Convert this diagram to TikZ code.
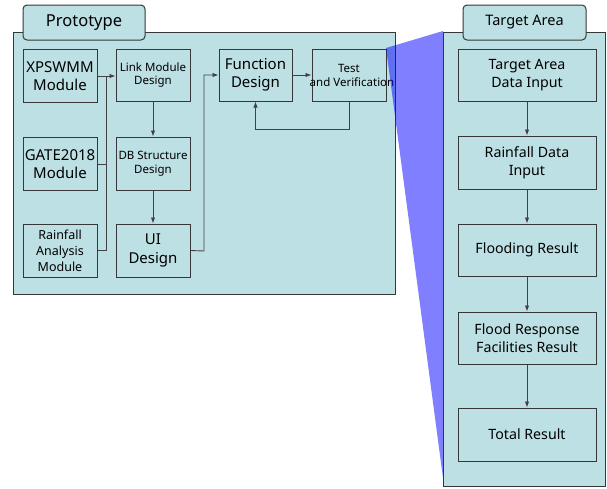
\documentclass[tikz,border=0pt]{standalone}
\usepackage{fontspec}
\setmainfont{Noto Sans}
\usetikzlibrary{arrows.meta}
\definecolor{panelfill}{RGB}{189,224,228}
\definecolor{edge}{RGB}{55,55,55}
\definecolor{wirec}{RGB}{65,65,65}
\begin{document}
\begin{tikzpicture}[x=1pt,y=-1pt,
  panel/.style={draw=edge, fill=panelfill, line width=1pt},
  tab/.style={draw=edge, fill=panelfill, line width=1pt, rounded corners=4pt,
    minimum width=122pt, minimum height=35pt, inner sep=0pt},
  box/.style={draw=edge, fill=panelfill, line width=1pt, align=center,
    inner sep=1pt, minimum width=74pt, minimum height=53pt},
  tbox/.style={box, minimum width=138pt, font=\fontsize{14.2}{18}\selectfont},
  wire/.style={draw=wirec, line width=0.9pt},
  arr/.style={wire, -{Latex[length=6pt,width=4.5pt]}}
]
\useasboundingbox (0,0) rectangle (607,488);

% ---------- Prototype panel ----------
\draw[panel] (13,32) rectangle (395,294);
\node[tab, font=\fontsize{16.5}{18}\selectfont] (protoTab) at (84,22.5) {Prototype};

\node[box, font=\fontsize{15}{18}\selectfont] (xp)   at (60,76)    {XPSWMM\\Module};
\node[box, font=\fontsize{15}{18}\selectfont] (gate) at (60,164)   {GATE2018\\Module};
\node[box, font=\fontsize{12.5}{16}\selectfont] (rain) at (60,250.5) {Rainfall\\Analysis\\Module};

\node[box, minimum height=52pt, font=\fontsize{11.5}{13.5}\selectfont] (link) at (153,75) {Link Module\\Design};
\node[box, font=\fontsize{11.5}{14}\selectfont] (db)   at (153,163.5) {DB Structure\\Design};
\node[box, font=\fontsize{15}{19}\selectfont]   (ui)   at (153,250.5) {UI\\Design};

\node[box, minimum width=73pt, minimum height=52pt, font=\fontsize{15}{18}\selectfont] (func) at (255.5,75) {Function\\Design};
\node[box, minimum height=52pt, font=\fontsize{11.5}{14}\selectfont] (test) at (349,75) {Test\\\makebox[0pt]{\hspace{6pt}and Verification}};

% module inputs joined on a common bus
\coordinate (bus) at (106,76);
\draw[arr] (xp.east) -- (xp.east -| link.west);
\draw[wire] (gate.east) -- (gate.east -| bus);
\draw[wire] (rain.east) -| (bus);

\draw[arr] (link.south) -- (db.north);
\draw[arr] (db.south) -- (ui.north);

\coordinate (uibend) at (204,251);
\draw[arr] (ui.east) -- (uibend) |- (func.west);
\draw[arr] (func.east) -- (test.west);
\draw[arr] (test.south) -- ++(0,28) -| (func.south);

% ---------- zoom wedge ----------
\fill[blue, opacity=0.5] (386,48) -- (443,31) -- (443,478) -- cycle;

% ---------- Target Area panel ----------
\draw[panel] (443,32) rectangle (605,486);
\node[tab, minimum width=123pt, font=\fontsize{14.5}{18}\selectfont] (targetTab) at (524.5,22.5) {Target Area};

\node[tbox, minimum height=52pt] (ta) at (527,75)    {Target Area\\Data Input};
\node[tbox] (rd) at (527,162.5) {Rainfall Data\\Input};
\node[tbox, minimum height=52pt] (fl) at (527,250)   {Flooding Result};
\node[tbox, minimum height=52pt] (fr) at (527,338)   {Flood Response\\Facilities Result};
\node[tbox] (tr) at (527,434.5) {Total Result};

\draw[arr] (ta.south) -- (rd.north);
\draw[arr] (rd.south) -- (fl.north);
\draw[arr] (fl.south) -- (fr.north);
\draw[arr] (fr.south) -- (tr.north);
\end{tikzpicture}
\end{document}
